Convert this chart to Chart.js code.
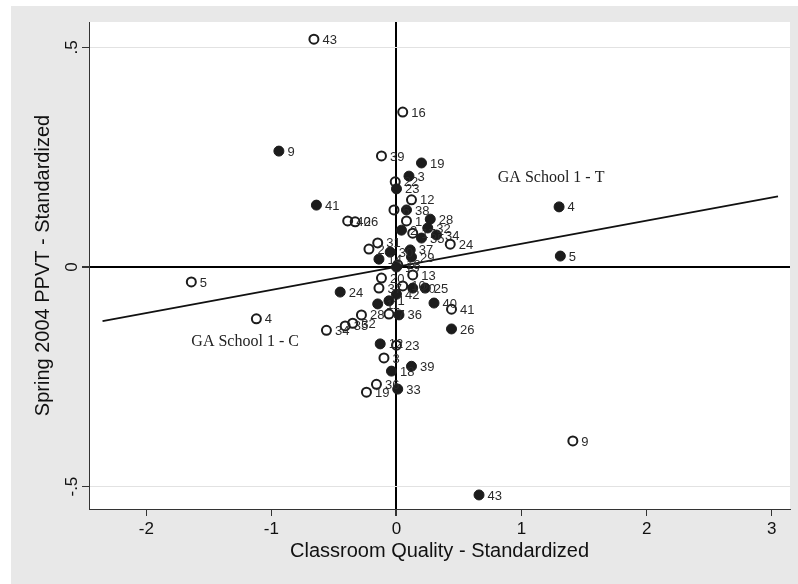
<!DOCTYPE html>
<html lang="en">
<head>
<meta charset="UTF-8">
<title>Spring 2004 PPVT vs Classroom Quality</title>
<style>
  html, body { margin: 0; padding: 0; background: #fff; }
  #wrap { width: 798px; height: 584px; }
</style>
</head>
<body>
<div id="wrap"><canvas id="myChart" width="798" height="584"></canvas></div>
<script src="https://cdn.jsdelivr.net/npm/chart.js@4"></script>
<script>
// axis ticks
const xTicks = [-2, -1, 0, 1, 2, 3];
const yTicks = [-0.5, 0, 0.5];
const yTickLabels = ['-.5', '0', '.5'];

// treatment classrooms (filled)
const tLabels = ['9', '41', '19', '3', '23', '38', '28', '2', '32', '34', '35', '37', '29', '14', '30', '15',
  '20', '25', '42', '24', '11', '1', '40', '36', '26', '12', '39', '18', '33', '43', '4', '5'];
const tX = [-0.94, -0.64, 0.20, 0.10, 0.00, 0.08, 0.27, 0.04, 0.25, 0.32, 0.20, 0.11, 0.12, -0.14, -0.05, 0.00,
  0.13, 0.23, 0.00, -0.45, -0.15, -0.06, 0.30, 0.02, 0.44, -0.13, 0.12, -0.04, 0.01, 0.66, 1.30, 1.31];
const tY = [0.264, 0.141, 0.237, 0.207, 0.178, 0.130, 0.109, 0.084, 0.089, 0.073, 0.066, 0.039, 0.023, 0.018, 0.034, 0.000,
  -0.048, -0.048, -0.062, -0.057, -0.084, -0.077, -0.082, -0.109, -0.141, -0.175, -0.226, -0.237, -0.278, -0.519, 0.137, 0.025];

// control classrooms (hollow)
const cLabels = ['43', '16', '39', '22', '12', '6', '40', '26', '1', '17', '24', '31', '2', '18', '20', '13',
  '37', '10', '41', '28', '7', '34', '35', '32', '23', '3', '36', '19', '5', '4', '9'];
const cX = [-0.66, 0.05, -0.12, -0.01, 0.12, -0.02, -0.39, -0.33, 0.08, 0.13, 0.43, -0.15, -0.22, 0.01, -0.12, 0.13,
  -0.14, 0.05, 0.44, -0.28, -0.06, -0.56, -0.41, -0.35, 0.00, -0.10, -0.16, -0.24, -1.64, -1.12, 1.41];
const cY = [0.519, 0.353, 0.253, 0.194, 0.153, 0.130, 0.105, 0.103, 0.105, 0.077, 0.052, 0.055, 0.041, 0.005, -0.025, -0.018,
  -0.048, -0.043, -0.096, -0.109, -0.107, -0.144, -0.134, -0.128, -0.178, -0.207, -0.267, -0.285, -0.034, -0.118, -0.396];

// fitted line end points
const fitX = [-2.35, 3.05];
const fitY = [-0.123, 0.161];

// text notes inside the plot
const noteText = ['GA School 1 - T', 'GA School 1 - C'];
const noteX = [0.81, -1.64];
const noteY = [0.203, -0.170];

const toPts = (xs, ys) => xs.map((x, i) => ({ x: x, y: ys[i] }));

Chart.defaults.font.family = '"Liberation Sans", Arial, sans-serif';
Chart.defaults.color = '#111';

const bgPlugin = {
  id: 'bg',
  beforeDraw(chart) {
    const { ctx, chartArea: a } = chart;
    ctx.save();
    ctx.fillStyle = '#e8e8e8';
    ctx.fillRect(11, 6, chart.width - 11, chart.height - 6);
    ctx.fillStyle = '#fff';
    ctx.fillRect(a.left, a.top, a.right - a.left, a.bottom - a.top);
    ctx.restore();
  }
};

const labelPlugin = {
  id: 'pointLabels',
  afterDatasetsDraw(chart) {
    const ctx = chart.ctx;
    ctx.save();
    ctx.font = '13px "Liberation Sans", Arial, sans-serif';
    ctx.fillStyle = '#2a2a2a';
    ctx.textBaseline = 'middle';
    ctx.textAlign = 'left';
    [0, 1].forEach(i => {
      const labs = chart.data.datasets[i].pointLabels;
      chart.getDatasetMeta(i).data.forEach((pt, j) => {
        ctx.fillText(labs[j], pt.x + 8.5, pt.y + 1);
      });
    });
    const xs = chart.scales.x, ys = chart.scales.y;
    ctx.font = '16px "Liberation Serif", "Times New Roman", serif';
    ctx.fillStyle = '#222';
    noteText.forEach((t, i) => {
      ctx.fillText(t, xs.getPixelForValue(noteX[i]), ys.getPixelForValue(noteY[i]));
    });
    ctx.restore();
  }
};

new Chart(document.getElementById('myChart'), {
  type: 'scatter',
  data: {
    datasets: [
      {
        label: 'T',
        data: toPts(tX, tY),
        pointLabels: tLabels,
        pointRadius: 5,
        pointBorderWidth: 1,
        pointBackgroundColor: '#1c1c1c',
        pointBorderColor: '#1c1c1c'
      },
      {
        label: 'C',
        data: toPts(cX, cY),
        pointLabels: cLabels,
        pointRadius: 4.5,
        pointBorderWidth: 2,
        pointBackgroundColor: 'rgba(0,0,0,0)',
        pointBorderColor: '#1c1c1c'
      },
      {
        label: 'fit',
        data: toPts(fitX, fitY),
        showLine: true,
        pointRadius: 0,
        borderColor: '#111',
        borderWidth: 1.8
      }
    ]
  },
  options: {
    responsive: false,
    animation: false,
    layout: { padding: { left: 11, top: 22, right: 8, bottom: 0 } },
    plugins: { legend: { display: false }, tooltip: { enabled: false } },
    scales: {
      x: {
        type: 'linear',
        min: -2.458,
        max: 3.146,
        afterBuildTicks: s => { s.ticks = xTicks.map(v => ({ value: v })); },
        afterFit: s => { s.height = 75; },
        ticks: { font: { size: 17 }, padding: 3, callback: v => String(v) },
        grid: {
          color: c => (c.tick && c.tick.value === 0 ? '#000' : 'rgba(0,0,0,0)'),
          lineWidth: c => (c.tick && c.tick.value === 0 ? 2 : 1),
          tickColor: '#333',
          tickLength: 7
        },
        border: { display: true, color: '#333', width: 1 },
        title: {
          display: true,
          text: 'Classroom Quality - Standardized',
          font: { size: 20 },
          color: '#111',
          padding: { top: 0, bottom: 21 }
        }
      },
      y: {
        type: 'linear',
        min: -0.551,
        max: 0.558,
        afterBuildTicks: s => { s.ticks = yTicks.map(v => ({ value: v })); },
        afterFit: s => { s.width = 78; },
        ticks: {
          font: { size: 17 },
          padding: 0,
          minRotation: 90,
          maxRotation: 90,
          crossAlign: 'center',
          callback: v => yTickLabels[yTicks.indexOf(v)]
        },
        grid: {
          color: c => (c.tick && c.tick.value === 0 ? '#000' : '#e2e2e2'),
          lineWidth: c => (c.tick && c.tick.value === 0 ? 2 : 1),
          tickColor: '#333',
          tickLength: 7
        },
        border: { display: true, color: '#333', width: 1 },
        title: {
          display: true,
          text: 'Spring 2004 PPVT - Standardized',
          font: { size: 20 },
          color: '#111',
          padding: { top: 20, bottom: 0 }
        }
      }
    }
  },
  plugins: [bgPlugin, labelPlugin]
});
</script>
</body>
</html>
